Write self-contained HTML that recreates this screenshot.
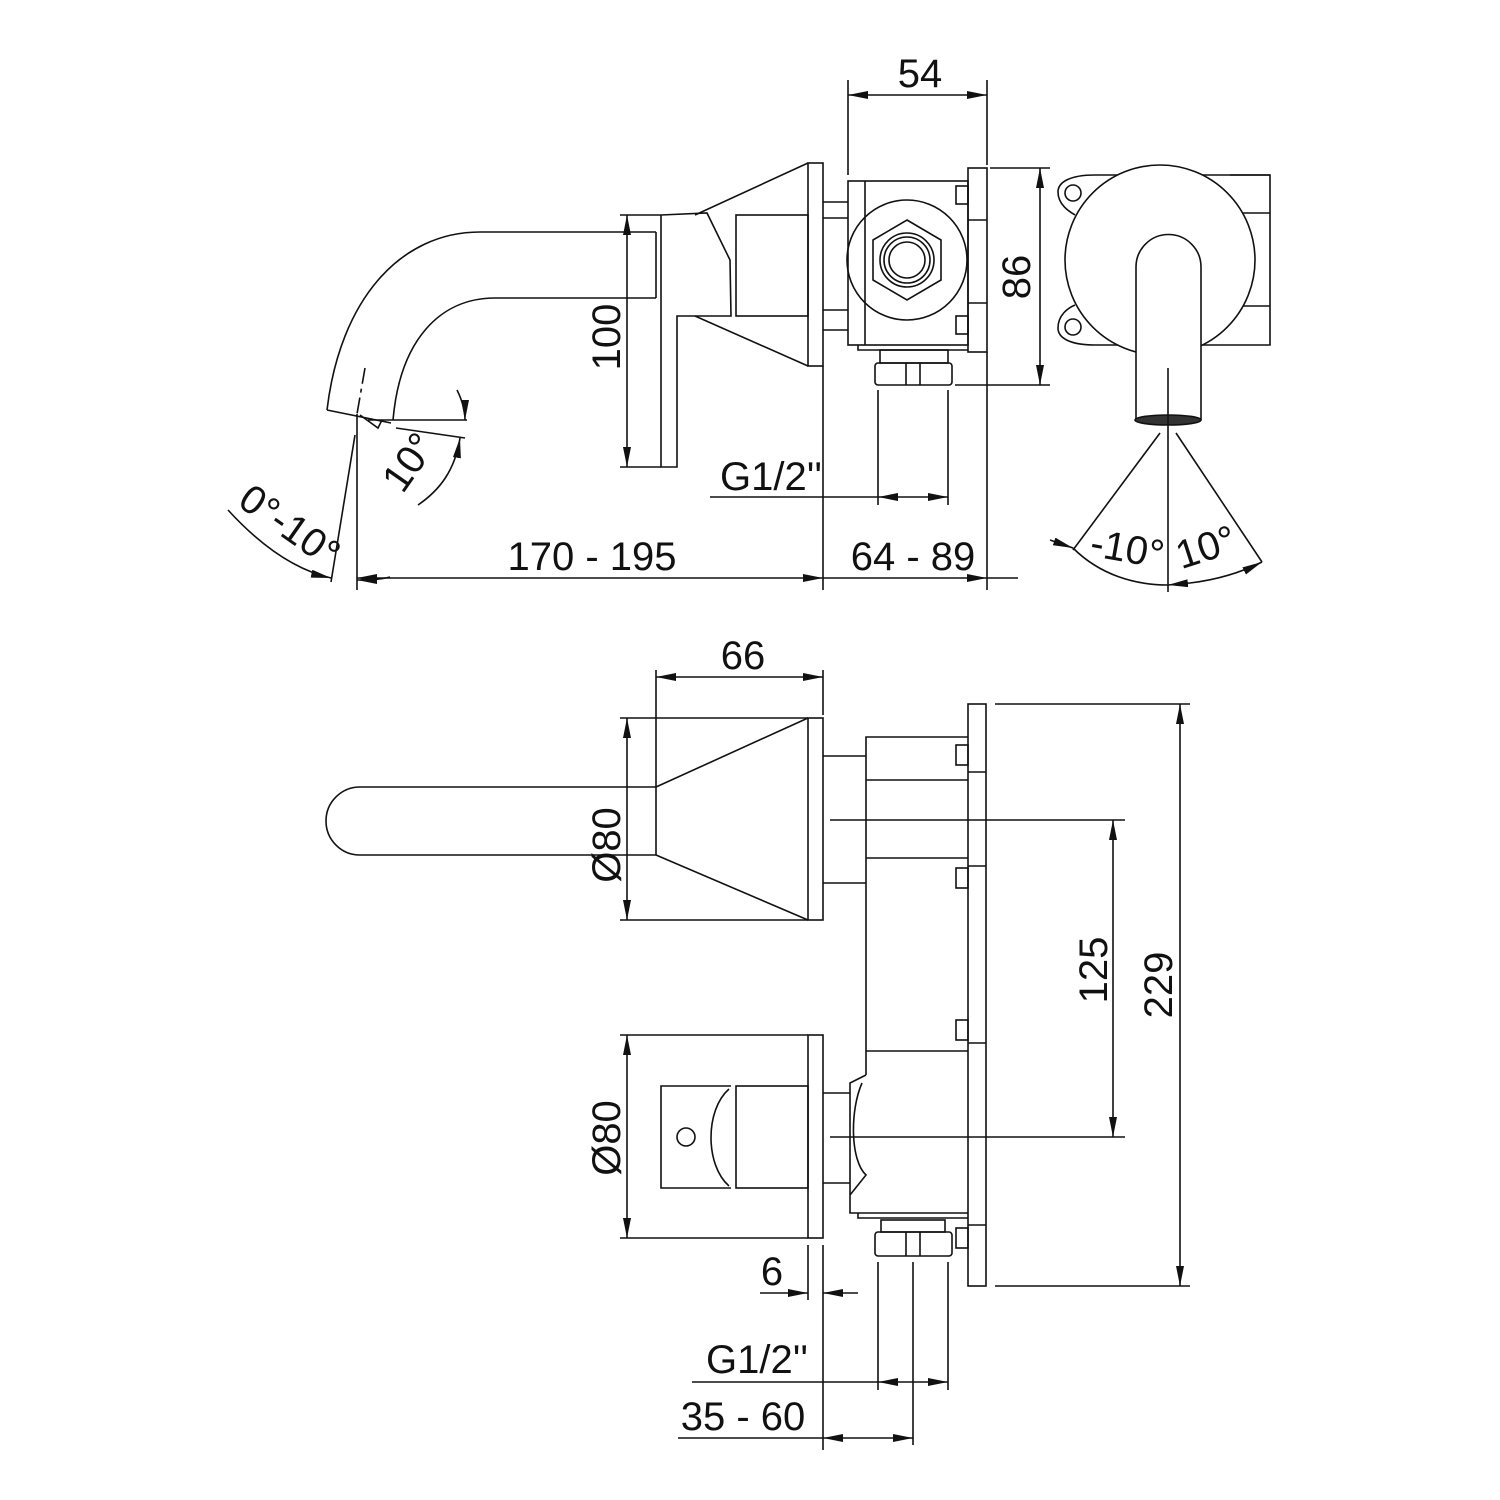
<!DOCTYPE html>
<html><head><meta charset="utf-8"><style>
html,body{margin:0;padding:0;background:#fff}
svg{display:block}
text{font-family:"Liberation Sans",sans-serif;font-size:40px;fill:#111}
</style></head><body>
<svg width="1500" height="1500" viewBox="0 0 1500 1500" xmlns="http://www.w3.org/2000/svg">
<defs>
<marker id="a" viewBox="0 0 20 8" refX="20" refY="4" markerWidth="20" markerHeight="8" markerUnits="userSpaceOnUse" orient="auto">
<path d="M0,0 L20,4 L0,8 Z" fill="#111"/>
</marker>
</defs>
<g fill="none" stroke="#111" stroke-width="1.6">
<!-- ===== TOP SIDE VIEW ===== -->
<path d="M656,232 L480,232 C400,232 340,300 327,410"/>
<path d="M656,298 L495,298 C440,298 400,340 393,420"/>
<path d="M327,410 L391,423"/>
<path d="M360,415 L378,428 L382,420"/>
<path d="M656,232 L656,298"/>
<path d="M661,215 L707,213 L730,260 L731,316 L677,316 L677,467 L661,467 L661,215"/>
<rect x="736" y="215" width="72" height="101"/>
<path d="M695,215 L808,163 M695,316 L808,366"/>
<rect x="808" y="163" width="15" height="203"/>
<path d="M823,202 L848,202 M823,218 L848,218 M823,310 L848,310 M823,330 L848,330"/>
<rect x="848" y="181" width="120" height="164"/>
<path d="M865,181 L865,345"/>
<circle cx="907" cy="260" r="60"/>
<polygon points="907,220 941,240 941,280 907,300 873,280 873,240"/>
<circle cx="907" cy="260" r="27"/>
<circle cx="907" cy="260" r="23"/>
<circle cx="907" cy="260" r="18"/>
<rect x="968" y="168" width="19" height="184"/>
<path d="M968,220 L987,220 M968,303 L987,303"/>
<rect x="956" y="186" width="12" height="18"/>
<rect x="956" y="316" width="12" height="18"/>
<path d="M858,345 L858,350 L968,350"/>
<rect x="880" y="350" width="68" height="13"/>
<rect x="875" y="363" width="77" height="22" rx="3"/>
<path d="M906,363 L906,385 M920,363 L920,385"/>
<path d="M848,80 L848,175 M987,80 L987,165"/>
<path d="M917,95 L848,95" marker-end="url(#a)"/><path d="M917,95 L987,95" marker-end="url(#a)"/>
<path d="M620,215 L661,215 M620,467 L661,467"/>
<path d="M627,340 L627,215" marker-end="url(#a)"/><path d="M627,340 L627,467" marker-end="url(#a)"/>
<path d="M990,168 L1050,168 M955,385 L1050,385"/>
<path d="M1040,275 L1040,168" marker-end="url(#a)"/><path d="M1040,275 L1040,385" marker-end="url(#a)"/>
<path d="M878,390 L878,505 M948,390 L948,505"/>
<path d="M710,497 L878,497"/><path d="M913,497 L878,497" marker-end="url(#a)"/><path d="M913,497 L948,497" marker-end="url(#a)"/>
<path d="M823,366 L823,590 M987,352 L987,590"/>
<path d="M590,578 L357,578" marker-end="url(#a)"/><path d="M590,578 L823,578" marker-end="url(#a)"/>
<path d="M905,578 L823,578"/><path d="M905,578 L987,578" marker-end="url(#a)"/><path d="M987,578 L1018,578"/>
<path d="M357,414 L357,590"/>
<path d="M365,368 L357,414" stroke-dasharray="16,5,4,5"/>
<path d="M355,435 L331,582"/>
<path d="M368,420 L467,420 M396,428 L465,438"/>
<path d="M457,390 C462,400 465,410 465,420" marker-end="url(#a)"/>
<path d="M418,505 C440,490 455,470 460,438" marker-end="url(#a)"/>
<path d="M228,510 C260,545 295,570 331,578" marker-end="url(#a)"/>
<path d="M390,577 C378,580 368,580 357,580" marker-end="url(#a)"/>
<!-- ===== RIGHT VIEW ===== -->
<path d="M1095,175 L1270,175 L1270,345 L1095,345"/>
<path d="M1230,175 L1270,175 M1230,213 L1270,213 M1230,306 L1270,306"/>
<path d="M1095,175 C1070,175 1058,182 1058,192 C1058,205 1070,212 1075,215"/>
<path d="M1075,305 C1068,308 1058,315 1058,328 C1058,338 1070,345 1095,345"/>
<circle cx="1073" cy="193" r="8"/><circle cx="1073" cy="327" r="8"/>
<circle cx="1160" cy="260" r="95" fill="#fff"/>
<path d="M1136,420 L1136,267 A32,32 0 0 1 1201,267 L1201,420" fill="#fff"/>
<ellipse cx="1168" cy="420" rx="33" ry="5" fill="#333"/>
<path d="M1168,368 L1168,592"/>
<path d="M1160,433 L1073,550 M1176,433 L1262,562"/>
<path d="M1050,540 L1073,548" marker-end="url(#a)"/>
<path d="M1073,548 C1100,575 1135,585 1168,585"/>
<path d="M1190,583 L1168,585" marker-end="url(#a)"/>
<path d="M1190,583 C1215,580 1240,573 1262,562" marker-end="url(#a)"/>
<!-- ===== BOTTOM VIEW ===== -->
<path d="M656,670 L656,787 M823,670 L823,715"/>
<path d="M740,677 L656,677" marker-end="url(#a)"/><path d="M740,677 L823,677" marker-end="url(#a)"/>
<path d="M656,787 L360,787 A34,34 0 0 0 360,855 L656,855 Z"/>
<path d="M656,787 L808,718 M656,855 L808,920"/>
<rect x="808" y="718" width="15" height="202"/>
<path d="M620,718 L808,718 M620,920 L808,920"/>
<path d="M627,820 L627,718" marker-end="url(#a)"/><path d="M627,820 L627,920" marker-end="url(#a)"/>
<path d="M823,756 L866,756 M823,883 L866,883"/>
<path d="M866,1075 L866,737 L968,737 M866,780 L968,780 M866,858 L968,858 M866,1051 L968,1051"/>
<path d="M866,1075 L850,1083 L850,1213 L968,1213"/>
<path d="M862,1083 C850,1110 850,1160 866,1175 L850,1195"/>
<rect x="968" y="704" width="18" height="582"/>
<path d="M968,772 L986,772 M968,866 L986,866 M968,1043 L986,1043 M968,1225 L986,1225"/>
<rect x="956" y="745" width="12" height="20"/>
<rect x="956" y="868" width="12" height="20"/>
<rect x="956" y="1020" width="12" height="20"/>
<rect x="956" y="1228" width="12" height="20"/>
<path d="M858,1213 L858,1218 L968,1218"/>
<rect x="881" y="1220" width="64" height="12"/>
<rect x="875" y="1232" width="77" height="24" rx="3"/>
<path d="M906,1232 L906,1256 M920,1232 L920,1256"/>
<rect x="808" y="1035" width="15" height="203"/>
<path d="M620,1035 L808,1035 M620,1238 L808,1238"/>
<path d="M627,1136 L627,1035" marker-end="url(#a)"/><path d="M627,1136 L627,1238" marker-end="url(#a)"/>
<path d="M731,1086 L661,1086 L661,1188 L731,1188"/>
<path d="M729,1089 C705,1110 705,1165 729,1186"/>
<rect x="736" y="1086" width="72" height="102"/>
<circle cx="686" cy="1137" r="9"/>
<path d="M823,1093 L850,1093 M823,1183 L850,1183"/>
<path d="M830,820 L1125,820 M830,1137 L1125,1137"/>
<path d="M1113,980 L1113,820" marker-end="url(#a)"/><path d="M1113,980 L1113,1137" marker-end="url(#a)"/>
<path d="M995,704 L1190,704 M995,1286 L1190,1286"/>
<path d="M1180,995 L1180,704" marker-end="url(#a)"/><path d="M1180,995 L1180,1286" marker-end="url(#a)"/>
<path d="M808,1245 L808,1300 M823,1245 L823,1450"/>
<path d="M760,1293 L808,1293" marker-end="url(#a)"/><path d="M858,1293 L823,1293" marker-end="url(#a)"/>
<path d="M878,1262 L878,1390 M913,1262 L913,1445 M948,1262 L948,1390"/>
<path d="M692,1382 L878,1382"/><path d="M913,1382 L878,1382" marker-end="url(#a)"/><path d="M913,1382 L948,1382" marker-end="url(#a)"/>
<path d="M678,1438 L823,1438"/><path d="M868,1438 L823,1438" marker-end="url(#a)"/><path d="M868,1438 L913,1438" marker-end="url(#a)"/>
</g>
<text x="920" y="87" text-anchor="middle">54</text>
<text transform="translate(620,337) rotate(-90)" text-anchor="middle">100</text>
<text transform="translate(1030,277) rotate(-90)" text-anchor="middle">86</text>
<text x="822" y="490" text-anchor="end">G1/2''</text>
<text x="592" y="570" text-anchor="middle">170 - 195</text>
<text x="913" y="570" text-anchor="middle">64 - 89</text>
<text transform="translate(420,470) rotate(-55)" text-anchor="middle">10°</text>
<text transform="translate(282,537) rotate(35)" text-anchor="middle">0°-10°</text>
<text transform="translate(1125,562) rotate(10)" text-anchor="middle">-10°</text>
<text transform="translate(1210,560) rotate(-18)" text-anchor="middle">10°</text>
<text x="743" y="669" text-anchor="middle">66</text>
<text transform="translate(620,845) rotate(-90)" text-anchor="middle">Ø80</text>
<text transform="translate(620,1138) rotate(-90)" text-anchor="middle">Ø80</text>
<text transform="translate(1107,970) rotate(-90)" text-anchor="middle">125</text>
<text transform="translate(1172,985) rotate(-90)" text-anchor="middle">229</text>
<text x="772" y="1285" text-anchor="middle">6</text>
<text x="808" y="1373" text-anchor="end">G1/2''</text>
<text x="743" y="1430" text-anchor="middle">35 - 60</text>
</svg>
</body></html>
